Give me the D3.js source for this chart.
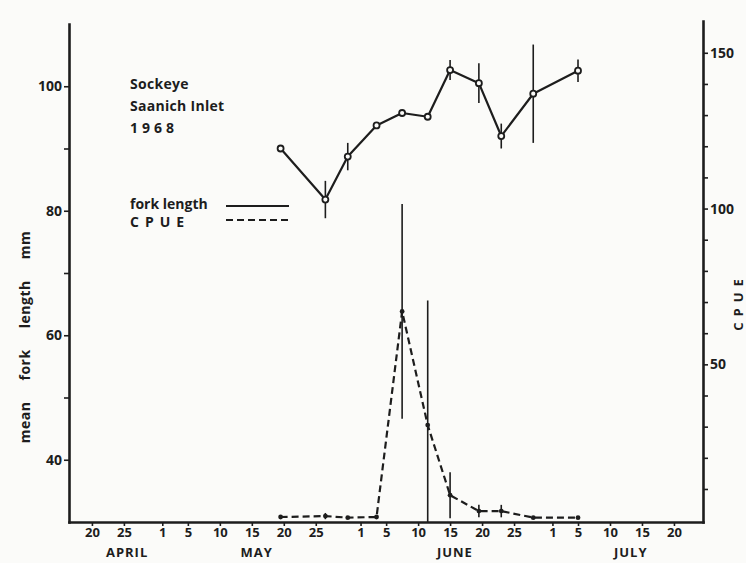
<!DOCTYPE html>
<html>
<head>
<meta charset="utf-8">
<script src="https://cdn.jsdelivr.net/npm/d3@7"></script>
<style>
  html, body { margin: 0; padding: 0; background: #fbfbf9; }
  svg { display: block; }
  text { font-family: "Open Sans", "DejaVu Sans", sans-serif; font-weight: 700; fill: #1d1d1d; }
</style>
</head>
<body>
<svg id="chart" width="746" height="563"></svg>
<script>
// Sampling dates (UTC, with half-day resolution)
const sampleDates = ["1968-05-19T12", "1968-05-26T12", "1968-05-30T00", "1968-06-03T12",
                     "1968-06-07T12", "1968-06-11T12", "1968-06-15T00", "1968-06-19T12",
                     "1968-06-23T00", "1968-06-28T00", "1968-07-05T00"];
// Mean fork length (mm) and half-range of its vertical bar
const forkLength    = [90.0, 81.8, 88.7, 93.7, 95.7, 95.1, 102.6, 100.5, 92.0, 98.8, 102.5];
const forkLengthErr = [0, 3.0, 2.2, 0, 0, 0, 1.6, 3.2, 2.0, 7.9, 1.8];
// Catch per unit effort and half-range of its vertical bar
const cpue    = [1.0, 1.3, 0.8, 1.0, 67.0, 30.5, 8.0, 2.9, 2.9, 0.8, 0.8];
const cpueErr = [0, 1.0, 0, 0, 34.5, 40.0, 7.4, 2.0, 2.0, 0, 0];

// Date axis ticks and month captions
const tickDates = ["1968-04-20", "1968-04-25", "1968-05-01", "1968-05-05", "1968-05-10",
                   "1968-05-15", "1968-05-20", "1968-05-25", "1968-06-01", "1968-06-05",
                   "1968-06-10", "1968-06-15", "1968-06-20", "1968-06-25", "1968-07-01",
                   "1968-07-05", "1968-07-10", "1968-07-15", "1968-07-20"];
const monthNames = ["APRIL", "MAY", "JUNE", "JULY"];
const monthCaptionDates = ["1968-04-25T12", "1968-05-15T18", "1968-06-15T18", "1968-07-13T06"];

// Value-axis ticks
const lengthTicks = [40, 50, 60, 70, 80, 90, 100];
const lengthLabels = [40, 60, 80, 100];
const cpueTicks = [10, 20, 30, 40, 50, 60, 70, 80, 90, 100, 110, 120, 130, 140, 150];
const cpueLabels = [50, 100, 150];

const titleLines = ["Sockeye", "Saanich Inlet", "1968"];
const legendLabels = ["fork length", "CPUE"];

const parseTime = d3.utcParse("%Y-%m-%dT%H");
const parseDay = d3.utcParse("%Y-%m-%d");

const svg = d3.select("#chart");
const ink = "#1d1d1d";

const x = d3.scaleUtc()
  .domain([Date.UTC(1968, 3, 16, 10), Date.UTC(1968, 6, 24, 13)])
  .range([69, 703]);
const yLen = d3.scaleLinear().domain([30, 110]).range([522, 24]);
const yCpue = d3.scaleLinear().domain([-0.6, 160.2]).range([522, 21]);

const rows = sampleDates.map((s, i) => ({
  date: parseTime(s),
  len: forkLength[i], lenErr: forkLengthErr[i],
  cpue: cpue[i], cpueErr: cpueErr[i]
}));

// ---- axes ----
function styleAxis(g, width, fontSize) {
  g.select(".domain").attr("stroke", ink).attr("stroke-width", width).attr("stroke-linecap", "square");
  g.selectAll(".tick line").attr("stroke", ink).attr("stroke-width", 1.6);
  g.selectAll(".tick text").attr("fill", ink).style("font-size", fontSize);
}

const leftAxis = svg.append("g").attr("transform", "translate(69,0)")
  .call(d3.axisLeft(yLen).tickValues(lengthTicks)
    .tickFormat(d => lengthLabels.includes(d) ? d : "")
    .tickSize(5).tickSizeOuter(0).tickPadding(2));
styleAxis(leftAxis, 2.6, "14px");

const rightAxis = svg.append("g").attr("transform", "translate(703,0)")
  .call(d3.axisRight(yCpue).tickValues(cpueTicks)
    .tickFormat(d => cpueLabels.includes(d) ? d : "")
    .tickSize(5).tickSizeOuter(0).tickPadding(2));
styleAxis(rightAxis, 2.6, "14px");

const bottomAxis = svg.append("g").attr("transform", "translate(0,522)")
  .call(d3.axisBottom(x).tickValues(tickDates.map(parseDay))
    .tickFormat(d3.utcFormat("%-d")).tickSize(4).tickSizeOuter(0).tickPadding(2));
styleAxis(bottomAxis, 2.6, "13px");

svg.append("g").selectAll("text").data(monthNames).join("text")
  .attr("x", (d, i) => x(parseTime(monthCaptionDates[i])))
  .attr("y", 557)
  .attr("text-anchor", "middle")
  .style("font-size", "13px")
  .style("letter-spacing", "1px")
  .text(d => d);

// axis titles
svg.append("text")
  .attr("transform", "translate(30,337) rotate(-90)")
  .attr("text-anchor", "middle")
  .style("font-size", "14px")
  .style("letter-spacing", "0.5px")
  .style("word-spacing", "17px")
  .text("mean fork length mm");

svg.append("text")
  .attr("transform", "translate(743,302) rotate(-90)")
  .attr("text-anchor", "middle")
  .style("font-size", "13px")
  .style("letter-spacing", "6px")
  .text("CPUE");

// ---- title and legend ----
svg.append("g").selectAll("text").data(titleLines).join("text")
  .attr("x", 130)
  .attr("y", (d, i) => 89 + i * 22)
  .style("font-size", "14px")
  .style("letter-spacing", (d, i) => i === 2 ? "4px" : "0.3px")
  .text(d => d);

const legend = svg.append("g");
legend.selectAll("text").data(legendLabels).join("text")
  .attr("x", 130)
  .attr("y", (d, i) => 209 + i * 18)
  .style("font-size", "14px")
  .style("letter-spacing", (d, i) => i === 1 ? "6px" : "0px")
  .text(d => d);
legend.append("line").attr("x1", 226).attr("x2", 289).attr("y1", 206).attr("y2", 206)
  .attr("stroke", ink).attr("stroke-width", 2);
legend.append("line").attr("x1", 226).attr("x2", 289).attr("y1", 220).attr("y2", 220)
  .attr("stroke", ink).attr("stroke-width", 2).attr("stroke-dasharray", "7,4");

// ---- CPUE (dashed, right scale) ----
const cpueLine = d3.line().x(d => x(d.date)).y(d => yCpue(d.cpue));
svg.append("path").datum(rows)
  .attr("d", cpueLine)
  .attr("fill", "none").attr("stroke", ink).attr("stroke-width", 2.2)
  .attr("stroke-dasharray", "7,4");

svg.append("g").selectAll("line").data(rows.filter(d => d.cpueErr > 0)).join("line")
  .attr("x1", d => x(d.date)).attr("x2", d => x(d.date))
  .attr("y1", d => yCpue(d.cpue + d.cpueErr))
  .attr("y2", d => yCpue(Math.max(d.cpue - d.cpueErr, yCpue.domain()[0])))
  .attr("stroke", ink).attr("stroke-width", 1.6);

svg.append("g").selectAll("circle").data(rows).join("circle")
  .attr("cx", d => x(d.date)).attr("cy", d => yCpue(d.cpue))
  .attr("r", 2.4).attr("fill", ink);

// ---- fork length (solid, left scale) ----
const lenLine = d3.line().x(d => x(d.date)).y(d => yLen(d.len));
svg.append("path").datum(rows)
  .attr("d", lenLine)
  .attr("fill", "none").attr("stroke", ink).attr("stroke-width", 2.2)
  .attr("stroke-linejoin", "round");

svg.append("g").selectAll("line").data(rows.filter(d => d.lenErr > 0)).join("line")
  .attr("x1", d => x(d.date)).attr("x2", d => x(d.date))
  .attr("y1", d => yLen(d.len + d.lenErr))
  .attr("y2", d => yLen(d.len - d.lenErr))
  .attr("stroke", ink).attr("stroke-width", 1.6);

svg.append("g").selectAll("circle").data(rows).join("circle")
  .attr("cx", d => x(d.date)).attr("cy", d => yLen(d.len))
  .attr("r", 3).attr("fill", "#fbfbf9").attr("stroke", ink).attr("stroke-width", 1.8);
</script>
</body>
</html>
